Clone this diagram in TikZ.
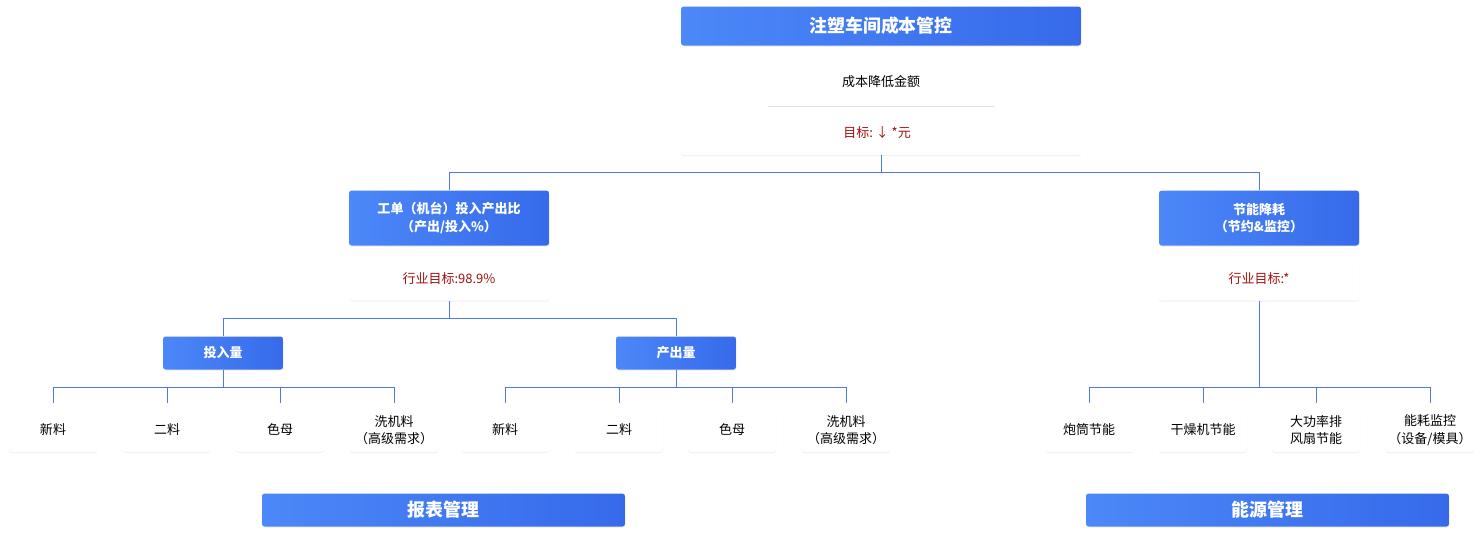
\documentclass[tikz,border=0pt]{standalone}
\usepackage{fontspec}
\setmainfont{Noto Sans CJK SC}
\usepackage{tikz}
\usetikzlibrary{shadows}
\definecolor{bluel}{HTML}{4C88F8}
\definecolor{bluer}{HTML}{366AEA}
\definecolor{linec}{HTML}{4A7BE8}
\definecolor{redt}{HTML}{A01010}
\tikzset{
  bluebox/.style={rectangle, rounded corners=1.5pt, left color=bluel, right color=bluer,
    text=white, font=\bfseries\fontsize{7.4}{10}\selectfont, align=center, inner sep=0pt,
    drop shadow={opacity=0.15, shadow xshift=0.3pt, shadow yshift=-0.6pt}},
  card/.style={rectangle, rounded corners=1.5pt, fill=white, align=center, inner sep=0pt,
    font=\fontsize{7.4}{10}\selectfont,
    drop shadow={opacity=0.12, shadow xshift=0pt, shadow yshift=-0.6pt}},
  leaf/.style={card, minimum width=1.76cm, minimum height=0.88cm},
  conn/.style={linec, line width=0.5pt}
}
\begin{document}
\begin{tikzpicture}[x=0.02cm, y=-0.02cm]
\useasboundingbox (0,0) rectangle (1483,539);
% Top title and its card
\node[bluebox, minimum width=8cm, minimum height=0.78cm, font=\bfseries\fontsize{10.2}{12}\selectfont] (top) at (881,26) {注塑车间成本管控};
\node[card, minimum width=8cm, minimum height=1.96cm] (topcard) at (881,106) {};
\node[font=\fontsize{7.4}{10}\selectfont] (cost) at (881,82) {成本降低金额};
\draw[black!12, line width=0.4pt] (768,106) -- (994,106);
\node[font=\fontsize{7.4}{10}\selectfont, text=redt] (goal) at (877,133) {目标:\ ↓\ *元};
% Second level
\node[bluebox, minimum width=4cm, minimum height=1.1cm] (ratio) at (449,218) {工单（机台）投入产出比\\（产出/投入\%）};
\node[card, minimum width=4cm, minimum height=0.86cm, text=redt] (ratiogoal) at (449,279) {行业目标:98.9\%};
\node[bluebox, minimum width=4cm, minimum height=1.1cm] (energy) at (1259,218) {节能降耗\\（节约\&监控）};
\node[card, minimum width=4cm, minimum height=0.86cm, text=redt] (energygoal) at (1259,279) {行业目标:*};
\draw[conn] (topcard.south) |- (449,172) -- (ratio.north);
\draw[conn] (topcard.south) |- (1259,172) -- (energy.north);
% Third level
\node[bluebox, minimum width=2.4cm, minimum height=0.66cm] (input) at (223,353) {投入量};
\node[bluebox, minimum width=2.4cm, minimum height=0.66cm] (output) at (676,353) {产出量};
\draw[conn] (ratiogoal.south) |- (223,318) -- (input.north);
\draw[conn] (ratiogoal.south) |- (676,318) -- (output.north);
% Leaves
\foreach \x/\t [count=\i] in {53/新料, 167/二料, 280/色母, 394/{洗机料\\（高级需求）}} {
  \node[leaf] (in\i) at (\x,430) {\t};
  \draw[conn] (input.south) |- (\x,387) -- (\x,403);
}
\foreach \x/\t [count=\i] in {505/新料, 619/二料, 732/色母, 846/{洗机料\\（高级需求）}} {
  \node[leaf] (out\i) at (\x,430) {\t};
  \draw[conn] (output.south) |- (\x,387) -- (\x,403);
}
\foreach \x/\t [count=\i] in {1089/炮筒节能, 1203/干燥机节能, 1316/{大功率排\\风扇节能}, 1430/{能耗监控\\（设备/模具）}} {
  \node[leaf] (en\i) at (\x,430) {\t};
  \draw[conn] (energygoal.south) |- (\x,387) -- (\x,403);
}
% Bottom banners
\node[bluebox, minimum width=7.26cm, minimum height=0.66cm, font=\bfseries\fontsize{10.2}{12}\selectfont] (report) at (443.5,510) {报表管理};
\node[bluebox, minimum width=7.26cm, minimum height=0.66cm, font=\bfseries\fontsize{10.2}{12}\selectfont] (power) at (1267.5,510) {能源管理};
\end{tikzpicture}
\end{document}
